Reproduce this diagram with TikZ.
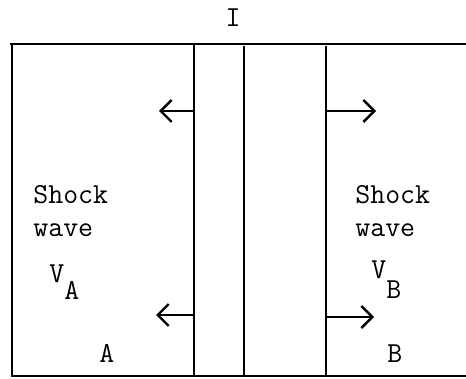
\documentclass[tikz,border=0pt]{standalone}
\usetikzlibrary{arrows.meta}

\begin{document}
\begin{tikzpicture}[
	x=0.5pt, y=-0.5pt,
	% Styles for walls, arrows and labels
	wall/.style={line width=1.1pt},
	rim/.style={line width=1.4pt},
	flow/.style={-{Straight Barb[length=5.5pt, width=11pt, line width=1.2pt]}, line width=1.1pt},
	typed/.style={font=\fontsize{14.5}{17}\selectfont\ttfamily, inner sep=0pt, anchor=base west}
	]
	\useasboundingbox (0,0) rectangle (466,379);
	
	% ==========================================
	% 1. TUBE OUTLINE AND INTERFACE WALLS
	% ==========================================
	\draw[rim] (10,44) -- (466,44);
	\draw[rim] (12,44) -- (12,376) -- (466,376);
	\draw[wall] (194,44) -- (194,375);
	\draw[wall] (244,46) -- (244,376);
	\draw[wall] (326,46) -- (326,376);
	
	% Interface label
	\node[typed, anchor=base] (labelI) at (233,27) {I};
	
	% ==========================================
	% 2. LEFT SHOCK WAVE (A)
	% ==========================================
	\coordinate (wallA1) at (194,111);
	\coordinate (tipA1) at (159,111);
	\coordinate (wallA2) at (194,315);
	\coordinate (tipA2) at (156,315);
	\draw[flow] (wallA1) -- (tipA1);
	\draw[flow] (wallA2) -- (tipA2);
	
	\node[typed] (shockA) at (33,204) {Shock};
	\node[typed] (waveA) at (33,237) {wave};
	\node[typed] (velA) at (49,283) {V\raisebox{-8.5pt}{A}};
	\node[typed] (regA) at (99,363) {A};
	
	% ==========================================
	% 3. RIGHT SHOCK WAVE (B)
	% ==========================================
	\coordinate (wallB1) at (326,111);
	\coordinate (tipB1) at (376,111);
	\coordinate (wallB2) at (326,317);
	\coordinate (tipB2) at (374,317);
	\draw[flow] (wallB1) -- (tipB1);
	\draw[flow] (wallB2) -- (tipB2);
	
	\node[typed] (shockB) at (355,204) {Shock};
	\node[typed] (waveB) at (355,237) {wave};
	\node[typed] (velB) at (371,279) {V\raisebox{-9.5pt}{B}};
	\node[typed] (regB) at (387,363) {B};
	
\end{tikzpicture}
\end{document}
